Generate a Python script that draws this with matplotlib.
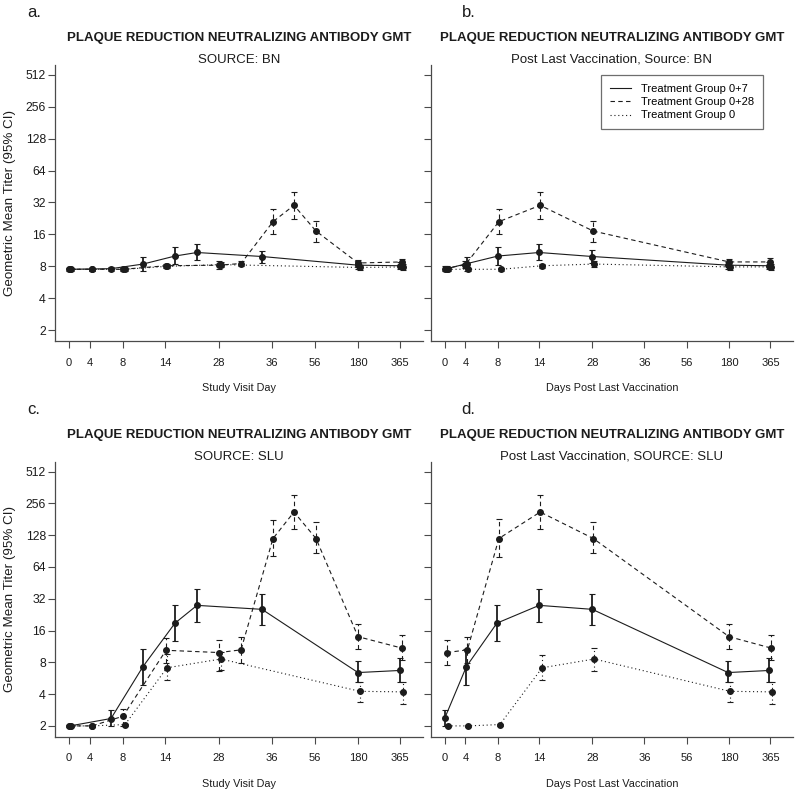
import numpy as np
import matplotlib
matplotlib.use("Agg")
import matplotlib.pyplot as plt
from matplotlib.ticker import NullLocator

plt.rcParams['font.family'] = ['Liberation Sans', 'DejaVu Sans']

# x axis: visit days are drawn on a stretched categorical-like scale
TICK_POS = [0, 21, 54, 96, 150, 203, 246, 289, 331]
DAY_LABELS = ['0', '4', '8', '14', '28', '36', '56', '180', '365']
Y_TICKS = [2, 4, 8, 16, 32, 64, 128, 256, 512]
SERIES_NAMES = ['Treatment Group 0+7', 'Treatment Group 0+28', 'Treatment Group 0']

# ---- panel a: source BN, study visit day
a_x_07 = [1, 42, 74, 106, 128, 193, 289, 331]
a_gmt_07 = [7.5, 7.6, 8.4, 10.0, 10.8, 9.9, 8.2, 8.1]
a_lo_07 = [7.3, 7.3, 7.2, 8.5, 9.1, 8.6, 7.6, 7.6]
a_hi_07 = [7.7, 7.9, 9.7, 12.1, 12.9, 11.2, 8.8, 8.7]

a_x_028 = [0, 23, 54, 97, 150, 172, 204, 225, 247, 289, 333]
a_gmt_028 = [7.5, 7.5, 7.5, 8.1, 8.2, 8.5, 21.1, 30.1, 17.2, 8.6, 8.8]
a_lo_028 = [7.3, 7.3, 7.3, 7.7, 7.6, 8.0, 16.1, 22.2, 13.6, 7.8, 7.9]
a_hi_028 = [7.7, 7.7, 7.7, 8.5, 8.9, 9.0, 27.5, 40.5, 21.5, 9.1, 9.3]

a_x_0 = [2, 23, 56, 98, 152, 291, 334]
a_gmt_0 = [7.5, 7.5, 7.5, 8.0, 8.3, 7.8, 7.9]
a_lo_0 = [7.3, 7.3, 7.3, 7.7, 7.9, 7.4, 7.4]
a_hi_0 = [7.7, 7.7, 7.7, 8.4, 8.8, 8.3, 8.4]

# ---- panel b: source BN, days post last vaccination
b_x_07 = [2, 23, 54, 96, 150, 288, 330]
b_gmt_07 = [7.6, 8.5, 10.0, 10.8, 9.9, 8.2, 8.1]
b_lo_07 = [7.3, 7.3, 8.2, 9.1, 8.6, 7.6, 7.6]
b_hi_07 = [8.0, 9.7, 12.2, 12.9, 11.4, 8.8, 8.7]

b_x_028 = [0, 21, 55, 97, 151, 289, 331]
b_gmt_028 = [7.6, 8.3, 21.1, 30.1, 17.2, 8.8, 8.8]
b_lo_028 = [7.3, 7.7, 16.1, 22.2, 13.6, 8.0, 8.0]
b_hi_028 = [8.1, 9.0, 27.5, 40.5, 21.5, 9.4, 9.5]

b_x_0 = [3, 24, 57, 99, 152, 290, 332]
b_gmt_0 = [7.5, 7.5, 7.5, 8.1, 8.4, 7.9, 7.9]
b_lo_0 = [7.3, 7.3, 7.3, 7.7, 7.9, 7.4, 7.4]
b_hi_0 = [7.7, 7.7, 7.7, 8.5, 8.9, 8.3, 8.4]

# ---- panel c: source SLU, study visit day
c_x_07 = [1, 42, 74, 106, 128, 193, 289, 331]
c_gmt_07 = [2.0, 2.35, 7.3, 18.8, 27.7, 25.4, 6.4, 6.7]
c_lo_07 = [1.95, 2.0, 4.9, 12.6, 19.3, 18.1, 5.2, 5.2]
c_hi_07 = [2.05, 2.8, 10.8, 27.9, 40.0, 35.2, 8.3, 8.7]

c_x_028 = [0, 23, 54, 97, 150, 172, 204, 225, 247, 289, 333]
c_gmt_028 = [2.0, 2.0, 2.47, 10.4, 9.9, 10.5, 119, 212, 119, 14.0, 10.9]
c_lo_028 = [1.95, 1.95, 2.0, 7.9, 6.6, 7.9, 81, 148, 86, 10.6, 8.5]
c_hi_028 = [2.05, 2.05, 2.9, 13.7, 12.9, 14.0, 180, 310, 169, 18.4, 14.4]

c_x_0 = [2, 23, 56, 98, 152, 291, 334]
c_gmt_0 = [2.0, 2.0, 2.06, 7.1, 8.6, 4.25, 4.2]
c_lo_0 = [1.95, 1.95, 2.0, 5.4, 6.8, 3.4, 3.2]
c_hi_0 = [2.05, 2.05, 2.1, 9.5, 10.0, 5.2, 5.2]

# ---- panel d: source SLU, days post last vaccination
d_x_07 = [0, 22, 53, 96, 150, 288, 330]
d_gmt_07 = [2.37, 7.3, 18.8, 27.7, 25.4, 6.4, 6.7]
d_lo_07 = [2.0, 4.9, 12.6, 19.3, 18.1, 5.2, 5.2]
d_hi_07 = [2.8, 10.8, 27.9, 40.0, 35.2, 8.3, 8.7]

d_x_028 = [2, 23, 55, 97, 151, 289, 332]
d_gmt_028 = [9.9, 10.5, 119, 212, 119, 14.0, 10.9]
d_lo_028 = [7.6, 7.9, 79, 148, 86, 10.6, 8.5]
d_hi_028 = [12.9, 14.0, 181, 310, 169, 18.4, 14.4]

d_x_0 = [3, 24, 56, 99, 152, 290, 333]
d_gmt_0 = [2.0, 2.0, 2.06, 7.1, 8.6, 4.25, 4.2]
d_lo_0 = [1.95, 1.95, 2.0, 5.4, 6.6, 3.4, 3.2]
d_hi_0 = [2.05, 2.05, 2.1, 9.3, 10.9, 5.2, 5.2]

INK = '#1c1c1c'
SPINE = '#4a4a4a'
LINESTYLES = ['-', (0, (4, 3)), (0, (1, 2.5))]
ERR_WIDTHS = [1.3, 0.8, 0.8]


def draw_series(ax, x, gmt, lo, hi, ls, elw, label):
    gmt = np.array(gmt)
    lo = np.array(lo)
    hi = np.array(hi)
    ax.plot(x, gmt, linestyle=ls, color=INK, lw=0.8, label=label)
    eb = ax.errorbar(x, gmt, yerr=[gmt - lo, hi - gmt], fmt='o', ms=4,
                     color=INK, ecolor=INK, elinewidth=elw, capsize=2.5,
                     capthick=0.8, zorder=3)
    eb.lines[2][0].set_linestyle(ls)


def setup_axes(ax, show_ylabels):
    ax.set_yscale('log', base=2)
    ax.set_ylim(2 ** 0.66, 2 ** 9.31)
    ax.set_xlim(-14, 354)
    ax.set_yticks(Y_TICKS)
    ax.yaxis.set_minor_locator(NullLocator())
    if show_ylabels:
        ax.set_yticklabels([str(v) for v in Y_TICKS])
    else:
        ax.set_yticklabels([])
    ax.set_xticks(TICK_POS)
    ax.set_xticklabels(DAY_LABELS)
    for s in ['top', 'right']:
        ax.spines[s].set_visible(False)
    for s in ['left', 'bottom']:
        ax.spines[s].set_color(SPINE)
        ax.spines[s].set_linewidth(0.9)
    ax.tick_params(axis='both', direction='out', length=5, width=0.8,
                   color=SPINE, labelcolor=INK, labelsize=8)
    ax.tick_params(axis='x', pad=7)
    ax.tick_params(axis='y', pad=1.5, labelsize=8.8)


fig = plt.figure(figsize=(8, 7.98), dpi=100)
ax_a = fig.add_axes([0.06875, 0.5727, 0.46, 0.3459])
ax_b = fig.add_axes([0.53875, 0.5727, 0.4525, 0.3459])
ax_c = fig.add_axes([0.06875, 0.0768, 0.46, 0.3446])
ax_d = fig.add_axes([0.53875, 0.0768, 0.4525, 0.3446])

panels = [
    (ax_a, [(a_x_07, a_gmt_07, a_lo_07, a_hi_07),
            (a_x_028, a_gmt_028, a_lo_028, a_hi_028),
            (a_x_0, a_gmt_0, a_lo_0, a_hi_0)],
     'a.', 'SOURCE: BN', 'Study Visit Day', True),
    (ax_b, [(b_x_07, b_gmt_07, b_lo_07, b_hi_07),
            (b_x_028, b_gmt_028, b_lo_028, b_hi_028),
            (b_x_0, b_gmt_0, b_lo_0, b_hi_0)],
     'b.', 'Post Last Vaccination, Source: BN', 'Days Post Last Vaccination', False),
    (ax_c, [(c_x_07, c_gmt_07, c_lo_07, c_hi_07),
            (c_x_028, c_gmt_028, c_lo_028, c_hi_028),
            (c_x_0, c_gmt_0, c_lo_0, c_hi_0)],
     'c.', 'SOURCE: SLU', 'Study Visit Day', True),
    (ax_d, [(d_x_07, d_gmt_07, d_lo_07, d_hi_07),
            (d_x_028, d_gmt_028, d_lo_028, d_hi_028),
            (d_x_0, d_gmt_0, d_lo_0, d_hi_0)],
     'd.', 'Post Last Vaccination, SOURCE: SLU', 'Days Post Last Vaccination', False),
]

for ax, series, letter, subtitle, xlabel, left in panels:
    setup_axes(ax, left)
    for (x, gmt, lo, hi), ls, elw, name in zip(series, LINESTYLES, ERR_WIDTHS, SERIES_NAMES):
        draw_series(ax, x, gmt, lo, hi, ls, elw, name)

    pos = ax.get_position()
    cx = pos.x0 + pos.width / 2
    top = pos.y1
    fig.text(cx, top + 0.0335, 'PLAQUE REDUCTION NEUTRALIZING ANTIBODY GMT',
             ha='center', va='center', fontsize=9.5, fontweight='bold', color=INK)
    fig.text(cx, top + 0.0063, subtitle, ha='center', va='center',
             fontsize=9.5, color=INK)
    fig.text(cx, pos.y0 - 0.0590, xlabel, ha='center', va='center',
             fontsize=7.8, color=INK)
    lx = 0.034 if left else 0.577
    fig.text(lx, top + 0.0652, letter, ha='left', va='center', fontsize=12, color=INK)
    if left:
        fig.text(0.0125, pos.y0 + pos.height / 2, 'Geometric Mean Titer (95% CI)',
                 rotation=90, ha='center', va='center', fontsize=9.6, color=INK)

leg_lines = [plt.Line2D([], [], color=INK, lw=0.8, linestyle=ls) for ls in LINESTYLES]
leg = ax_b.legend(leg_lines, SERIES_NAMES, loc='upper right',
                  bbox_to_anchor=(0.917, 0.964), fontsize=8, frameon=True,
                  fancybox=False, handlelength=1.9, handletextpad=0.9,
                  labelspacing=0.3, borderpad=0.8, borderaxespad=0)
leg.get_frame().set_edgecolor(SPINE)
leg.get_frame().set_linewidth(0.9)

fig.savefig('out.png', dpi=100)
